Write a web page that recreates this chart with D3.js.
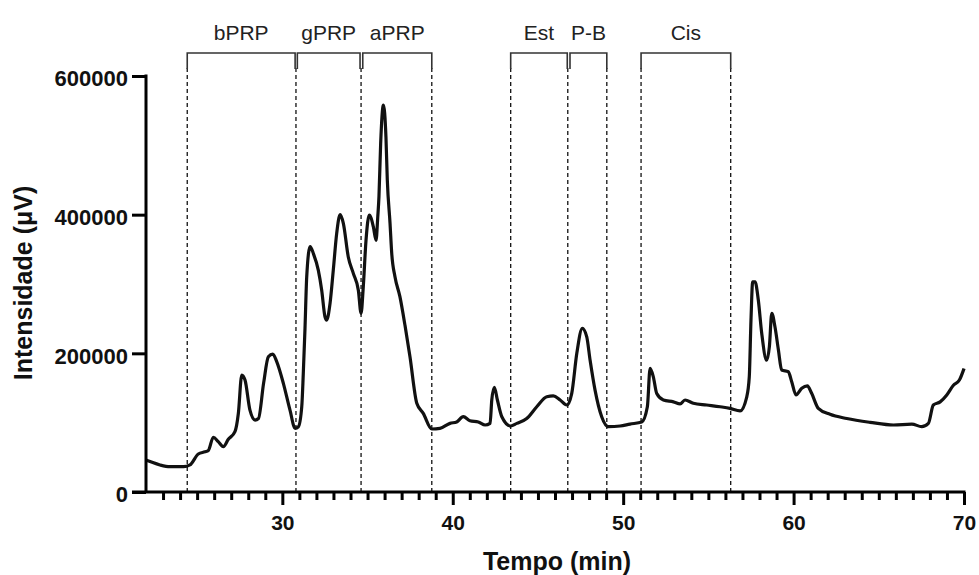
<!DOCTYPE html>
<html>
<head>
<meta charset="utf-8">
<script src="https://cdn.jsdelivr.net/npm/d3@7"></script>
<style>
  html, body { margin: 0; padding: 0; background: #fff; }
  svg { display: block; }
  text { font-family: "Liberation Sans", Arial, sans-serif; }
</style>
</head>
<body>
<script>
// ---- Data ----
const time = [22.0, 22.15, 22.82, 23.4, 24.2, 24.58, 25.07, 25.46, 25.66, 25.95, 26.24, 26.54, 26.83, 27.22, 27.42, 27.62, 27.81, 28.1, 28.4, 28.6, 28.9, 29.18, 29.44, 29.67, 30.06, 30.45, 30.75, 30.94, 31.14, 31.23, 31.33, 31.43, 31.63, 31.82, 32.11, 32.31, 32.5, 32.6, 32.8, 32.99, 33.19, 33.39, 33.58, 33.87, 34.17, 34.46, 34.62, 34.75, 34.91, 35.1, 35.34, 35.5, 35.6, 35.67, 35.77, 35.93, 36.08, 36.16, 36.32, 36.42, 36.61, 36.9, 37.2, 37.49, 37.89, 38.27, 38.77, 39.25, 39.84, 40.23, 40.62, 41.01, 41.5, 41.9, 42.19, 42.29, 42.44, 42.62, 42.88, 43.4, 43.76, 44.34, 44.93, 45.52, 45.9, 46.3, 46.69, 46.98, 47.28, 47.6, 47.86, 48.06, 48.35, 48.74, 49.13, 49.82, 50.4, 51.09, 51.42, 51.58, 51.77, 51.97, 52.36, 52.95, 53.34, 53.63, 54.12, 54.9, 55.69, 56.27, 56.86, 57.25, 57.4, 57.5, 57.6, 57.74, 57.93, 58.13, 58.42, 58.58, 58.72, 58.91, 59.11, 59.3, 59.69, 59.89, 60.14, 60.48, 60.81, 61.06, 61.45, 62.14, 63.12, 64.49, 65.86, 66.94, 67.52, 67.91, 68.2, 68.6, 68.99, 69.38, 69.73, 70.0];
const intensity = [46000, 44700, 39000, 36500, 36500, 39000, 54800, 58000, 60000, 79000, 72600, 65400, 76000, 87000, 113500, 168700, 161500, 118000, 103800, 106000, 156700, 195000, 199000, 188000, 156700, 118000, 91800, 94000, 123000, 171000, 236000, 310000, 354000, 344000, 320000, 291000, 253000, 248000, 272000, 320000, 373000, 400000, 387500, 339000, 315000, 291000, 257700, 296000, 363000, 399500, 382600, 363000, 397000, 426000, 503000, 558000, 512000, 450000, 387500, 344000, 310500, 281700, 240000, 195000, 128000, 113500, 90900, 91800, 99000, 101000, 108600, 102800, 101000, 96600, 99000, 132700, 151000, 132700, 108600, 95200, 99000, 106000, 123000, 137400, 138500, 132700, 125500, 142000, 200000, 236000, 224000, 190000, 147000, 108600, 94200, 95200, 98000, 101000, 123000, 178400, 166000, 142000, 132700, 130000, 127000, 132700, 128000, 125500, 123000, 120700, 117000, 137000, 166000, 248000, 303000, 303000, 277000, 229000, 190000, 209600, 257700, 238000, 204800, 176000, 173500, 159000, 140000, 149600, 153000, 142300, 120700, 112000, 106000, 100500, 96600, 98000, 94200, 99000, 125500, 130000, 140000, 154000, 161500, 178000];

const regionNames = ["bPRP", "gPRP", "aPRP", "Est", "P-B", "Cis"];
const regionStart = [24.42, 30.88, 34.72, 43.4, 46.88, 51.05];
const regionEnd   = [30.75, 34.56, 38.77, 46.72, 49.04, 56.31];
const dashedLines = [24.42, 30.8, 34.62, 38.77, 43.4, 46.75, 49.04, 51.05, 56.31];

const xMajorTicks = [30, 40, 50, 60, 70];
const xMinorTicks = d3.range(23, 70).filter(d => d % 10 !== 0);
const yTicks = [0, 200000, 400000, 600000];

// ---- Layout ----
const W = 979, H = 575;
const svg = d3.select("body").append("svg").attr("width", W).attr("height", H);

const x = d3.scaleLinear().domain([22, 70]).range([146, 964]);
const y = d3.scaleLinear().domain([0, 600000]).range([492, 76]);

// dashed boundaries
svg.append("g").selectAll("line").data(dashedLines).join("line")
  .attr("x1", d => x(d)).attr("x2", d => x(d))
  .attr("y1", 68).attr("y2", y(0))
  .attr("stroke", "#111").attr("stroke-width", 1.3)
  .attr("stroke-dasharray", "4,3");

// brackets
const bracketTop = 53, bracketBottom = 69;
const br = svg.append("g");
regionNames.forEach((name, i) => {
  const x0 = x(regionStart[i]), x1 = x(regionEnd[i]);
  br.append("path")
    .attr("d", `M${x0},${bracketBottom}V${bracketTop}H${x1}V${bracketBottom}`)
    .attr("fill", "none").attr("stroke", "#333").attr("stroke-width", 1.6);
  br.append("text")
    .attr("x", (x0 + x1) / 2).attr("y", 40)
    .attr("text-anchor", "middle")
    .attr("font-size", 21)
    .attr("fill", "#222")
    .text(name);
});

// line
const pts = time.map((t, i) => [t, intensity[i]]);
svg.append("path")
  .datum(pts)
  .attr("fill", "none")
  .attr("stroke", "#111")
  .attr("stroke-width", 3.2)
  .attr("stroke-linejoin", "round")
  .attr("d", d3.line().x(d => x(d[0])).y(d => y(d[1])).curve(d3.curveMonotoneX));

// x axis minor ticks
const gxMinor = svg.append("g").attr("transform", `translate(0,${y(0)})`)
  .call(d3.axisBottom(x).tickValues(xMinorTicks).tickSize(8).tickFormat("").tickSizeOuter(0));
gxMinor.select(".domain").remove();
gxMinor.selectAll("line").attr("stroke", "#000").attr("stroke-width", 3);

// x axis major
const gx = svg.append("g").attr("transform", `translate(0,${y(0)})`)
  .call(d3.axisBottom(x).tickValues(xMajorTicks).tickSize(13).tickPadding(10).tickSizeOuter(0));
gx.select(".domain").attr("stroke", "#000").attr("stroke-width", 3)
  .attr("d", `M${x(22) - 14},0H${x(70) + 1.5}`);
gx.selectAll("line").attr("stroke", "#000").attr("stroke-width", 3);
gx.selectAll("text").attr("font-size", 21).attr("font-weight", "bold").attr("fill", "#111")
  .style("font-family", "'Liberation Sans', Arial, sans-serif");

// y axis
const gy = svg.append("g").attr("transform", `translate(${x(22)},0)`)
  .call(d3.axisLeft(y).tickValues(yTicks).tickSize(14).tickPadding(4).tickSizeOuter(0).tickFormat(d3.format("d")));
gy.select(".domain").attr("stroke", "#000").attr("stroke-width", 3)
  .attr("d", `M0,${y(600000) - 1.5}V${y(0)}`);
gy.selectAll("line").attr("stroke", "#000").attr("stroke-width", 3);
gy.selectAll("text").attr("font-size", 22).attr("font-weight", "bold").attr("fill", "#111")
  .attr("dy", "0.45em")
  .style("font-family", "'Liberation Sans', Arial, sans-serif");

// axis titles
svg.append("text")
  .attr("x", 557).attr("y", 570)
  .attr("text-anchor", "middle")
  .attr("font-size", 25).attr("font-weight", "bold").attr("fill", "#111")
  .text("Tempo (min)");

svg.append("text")
  .attr("transform", `translate(32,283) rotate(-90)`)
  .attr("text-anchor", "middle")
  .attr("font-size", 25).attr("font-weight", "bold").attr("fill", "#111")
  .text("Intensidade (μV)");
</script>
</body>
</html>
